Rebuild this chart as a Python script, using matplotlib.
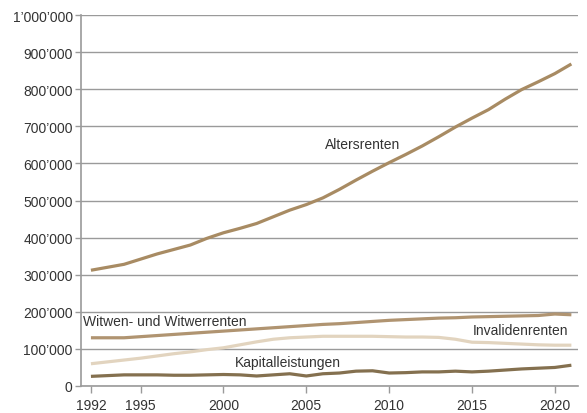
import matplotlib.pyplot as plt
from matplotlib.ticker import FuncFormatter

plt.rcParams['font.family'] = ['Liberation Sans', 'DejaVu Sans']

years = list(range(1992, 2022))

alters = [312, 320, 328, 342, 356, 368, 380, 398, 413, 425,
          438, 456, 474, 489, 507, 530, 555, 579, 602, 624,
          647, 672, 698, 722, 745, 773, 799, 820, 842, 868]
witwen = [130, 130, 130, 133, 136, 139, 142, 145, 148, 151,
          154, 157, 160, 163, 166, 168, 171, 174, 177, 179,
          181, 183, 184, 186, 187, 188, 189, 190, 194, 192]
invaliden = [60, 65, 70, 75, 81, 87, 92, 98, 103, 111,
             119, 126, 130, 132, 134, 134, 134, 134, 133, 132,
             132, 131, 126, 118, 117, 115, 113, 111, 110, 110]
kapital = [26, 28, 30, 30, 30, 29, 29, 30, 31, 30,
           27, 30, 33, 27, 33, 35, 40, 41, 35, 36,
           38, 38, 40, 38, 40, 43, 46, 48, 50, 56]

series = [
    (alters, '#a88b63', 'Altersrenten', 2006.1, 652, 'left'),
    (witwen, '#b09471', 'Witwen- und Witwerrenten', 1991.5, 175, 'left'),
    (invaliden, '#e2d4bf', 'Invalidenrenten', 2020.8, 151, 'right'),
    (kapital, '#84704f', 'Kapitalleistungen', 2000.7, 65, 'left'),
]

fig = plt.figure(figsize=(5.87, 4.14), dpi=100)
ax = fig.add_axes([81 / 587, 1 - 387 / 414, (578 - 81) / 587, (387 - 16) / 414])

for vals, color, label, tx, ty, ha in series:
    ax.plot(years, [v * 1000 for v in vals], color=color, linewidth=2.3,
            solid_capstyle='butt', zorder=3)
    ax.text(tx, ty * 1000, label, ha=ha, va='center', fontsize=10,
            color='#333333')

ax.set_xlim(1991.4, 2021.4)
ax.set_ylim(0, 1000000)
ax.set_yticks(range(0, 1000001, 100000))
ax.set_xticks([1992, 1995, 2000, 2005, 2010, 2015, 2020])


def fmt(v, pos):
    if v == 0:
        return '0'
    return f'{int(v):,}'.replace(',', '\u2019')


ax.yaxis.set_major_formatter(FuncFormatter(fmt))
ax.grid(axis='y', color='#9a9a9a', linewidth=1)
ax.set_axisbelow(True)
for s in ['top', 'right']:
    ax.spines[s].set_visible(False)
for s in ['left', 'bottom']:
    ax.spines[s].set_color('#9a9a9a')
    ax.spines[s].set_linewidth(1.2)
ax.tick_params(axis='both', colors='#9a9a9a', labelcolor='#333333',
               labelsize=10, length=5, width=1)
ax.tick_params(axis='y', length=4, pad=2)

fig.savefig('out.png', dpi=100)
